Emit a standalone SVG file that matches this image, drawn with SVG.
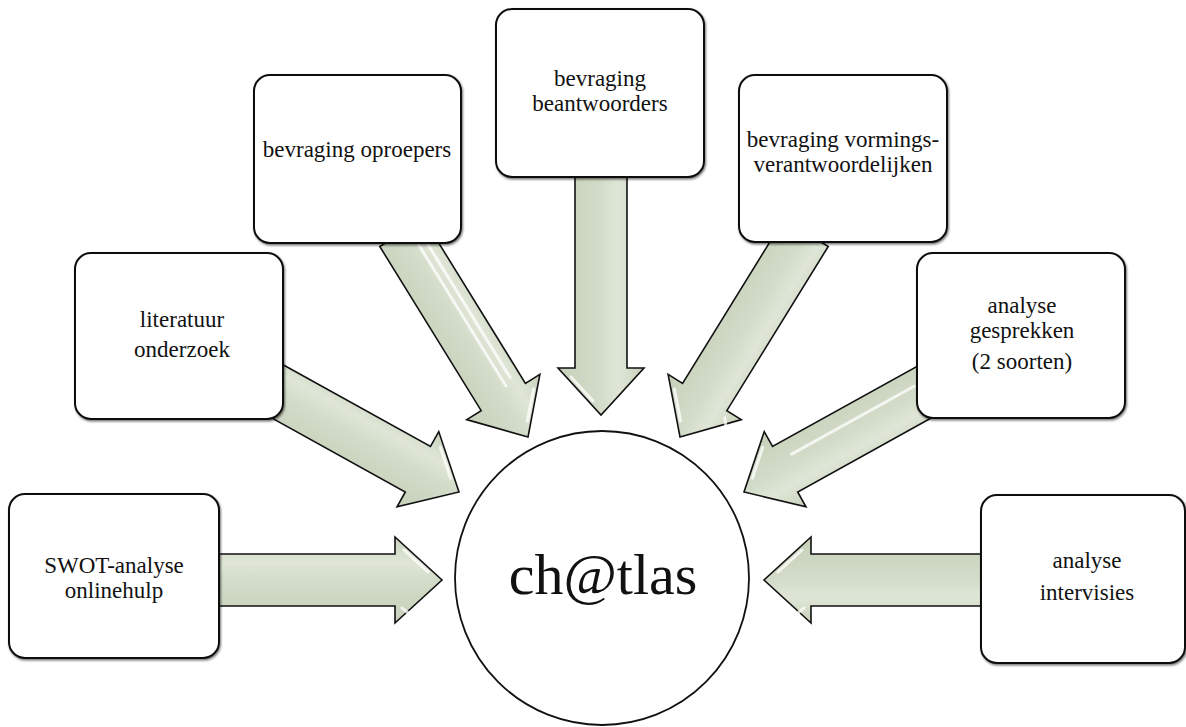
<svg xmlns="http://www.w3.org/2000/svg" width="1186" height="727" viewBox="0 0 1186 727">
<style>
.box{fill:#fff;stroke:#111;stroke-width:2;filter:url(#sh)}
.arr{fill:url(#ag);stroke:#111;stroke-width:1.6;stroke-linejoin:miter}
.hl{fill:none;stroke:#fff;stroke-opacity:0.75;stroke-width:3;stroke-linecap:round}
.t{font-family:"Liberation Serif","DejaVu Serif",serif;font-size:23px;fill:#111;text-anchor:middle}
.big{font-family:"Liberation Serif","DejaVu Serif",serif;font-size:58px;fill:#111;text-anchor:middle}
</style>
<defs>
<filter id="sh" x="-5%" y="-5%" width="110%" height="110%">
<feDropShadow dx="1" dy="1.5" stdDeviation="0.8" flood-color="#000" flood-opacity="0.55"/>
</filter>
<linearGradient id="ag" x1="0" y1="0" x2="0" y2="1">
<stop offset="0" stop-color="#c8d2bc"/>
<stop offset="0.3" stop-color="#dfe6d7"/>
<stop offset="0.5" stop-color="#d3dcc9"/>
<stop offset="1" stop-color="#c6d0b9"/>
</linearGradient>
</defs>
<g id="connectors">
<g transform="translate(442,580)">
<polygon class="arr" points="-237,-26 -47,-26 -47,-43 0,0 -47,43 -47,26 -237,26"/>
<path class="hl" d="M-38,-30 L-14,-8 M-40,28 L-30,36"/>
</g>
<g transform="translate(764,580) rotate(180)">
<polygon class="arr" points="-231,-26 -47,-26 -47,-43 0,0 -47,43 -47,26 -231,26"/>
<path class="hl" d="M-38,30 L-14,8 M-40,-28 L-30,-36"/>
</g>
<g transform="translate(601,415) rotate(90)">
<polygon class="arr" points="-250,-26 -47,-26 -47,-43 0,0 -47,43 -47,26 -250,26"/>
<path class="hl" d="M-38,30 L-14,8"/>
</g>
<g transform="translate(528,437) rotate(58.3)">
<polygon class="arr" points="-240,-26 -47,-26 -47,-43 0,0 -47,43 -47,26 -240,26"/>
<path class="hl" d="M-230,-8 L-55,-8 M-230,-16 L-60,-16 M-38,-30 L-14,-8"/>
</g>
<g transform="translate(680,437) rotate(121.7)">
<polygon class="arr" points="-240,-26 -47,-26 -47,-43 0,0 -47,43 -47,26 -240,26"/>
<path class="hl" d="M-38,30 L-14,8 M-40,-28 L-30,-36"/>
</g>
<g transform="translate(459,492) rotate(29)">
<polygon class="arr" points="-230,-26 -47,-26 -47,-43 0,0 -47,43 -47,26 -230,26"/>
<path class="hl" d="M-38,-30 L-14,-8"/>
</g>
<g transform="translate(744,492) rotate(151)">
<polygon class="arr" points="-230,-26 -47,-26 -47,-43 0,0 -47,43 -47,26 -230,26"/>
<path class="hl" d="M-200,10 L-60,10 M-38,30 L-14,8"/>
</g>
</g>
<g id="node-swot">
<rect class="box" x="9" y="494" width="210" height="164" rx="16"/>
<text class="t" x="114" y="573">SWOT-analyse</text>
<text class="t" x="114" y="598">onlinehulp</text>
</g>
<g id="node-literatuur">
<rect class="box" x="75" y="253" width="208" height="166" rx="16"/>
<text class="t" x="182" y="327">literatuur</text>
<text class="t" x="182" y="357">onderzoek</text>
</g>
<g id="node-oproepers">
<rect class="box" x="254" y="75" width="207" height="168" rx="16"/>
<text class="t" x="357" y="157">bevraging oproepers</text>
</g>
<g id="node-beantwoorders">
<rect class="box" x="496" y="9" width="208" height="168" rx="16"/>
<text class="t" x="600" y="86">bevraging</text>
<text class="t" x="600" y="111">beantwoorders</text>
</g>
<g id="node-vormings">
<rect class="box" x="739" y="75" width="208" height="167" rx="16"/>
<text class="t" x="843" y="147">bevraging vormings-</text>
<text class="t" x="843" y="172">verantwoordelijken</text>
</g>
<g id="node-gesprekken">
<rect class="box" x="917" y="253" width="208" height="165" rx="16"/>
<text class="t" x="1022" y="313">analyse</text>
<text class="t" x="1022" y="338">gesprekken</text>
<text class="t" x="1022" y="369">(2 soorten)</text>
</g>
<g id="node-intervisies">
<rect class="box" x="981" y="495" width="204" height="168" rx="16"/>
<text class="t" x="1087" y="568">analyse</text>
<text class="t" x="1087" y="600">intervisies</text>
</g>
<g id="node-chatlas">
<circle cx="602" cy="578" r="147" fill="#fff" stroke="#111" stroke-width="1.8"/>
<text class="big" x="603" y="594">ch@tlas</text>
</g>
</svg>
